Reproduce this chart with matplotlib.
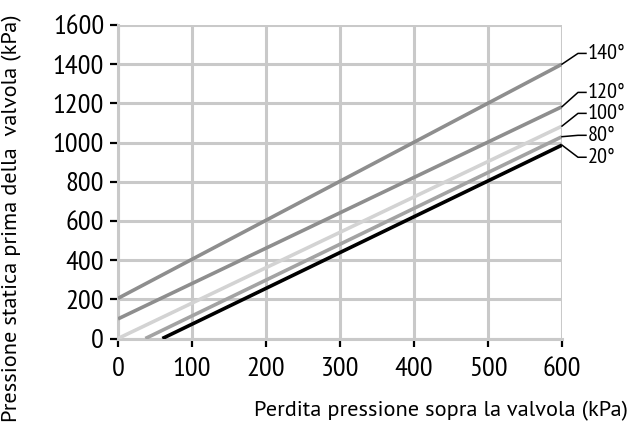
import matplotlib
matplotlib.use("Agg")
import matplotlib.pyplot as plt

plt.rcParams['font.family'] = ['PT Sans Narrow', 'DejaVu Sans']

# data
labels = ["140°", "120°", "100°", "80°", "20°"]
x_start = [0, 0, 0, 37, 60]
y_start = [205, 100, 0, 0, 0]
x_end = [600, 600, 600, 600, 600]
y_end = [1400, 1183, 1084, 1030, 987]
colors = ["#8e8e8e", "#8e8e8e", "#d3d3d3", "#a3a3a3", "#000000"]
label_y = [1455, 1256, 1149, 1037, 925]

x_ticks = [0, 100, 200, 300, 400, 500, 600]
y_ticks = [0, 200, 400, 600, 800, 1000, 1200, 1400, 1600]

fig = plt.figure(figsize=(6.31, 4.25), dpi=100)
ax = fig.add_axes([118/631, 1-338.5/425, (562-118)/631, (338.5-25)/425])
grid_c = "#c9c9c9"
ax.set_xlim(0, 600)
ax.set_ylim(0, 1600)
ax.set_xticks(x_ticks)
ax.set_yticks(y_ticks)
ax.grid(True, color=grid_c, linewidth=2.2, zorder=0)
for s in ["top", "right"]:
    ax.spines[s].set_visible(False)
for s in ["left", "bottom"]:
    ax.spines[s].set_color(grid_c)
    ax.spines[s].set_linewidth(2.2)
ax.tick_params(axis='both', direction='out', length=6, width=1.6, color='black',
               labelsize=20.5)
ax.tick_params(axis='y', pad=4)
ax.tick_params(axis='x', pad=7)

for xs, ys, xe, ye, c in zip(x_start, y_start, x_end, y_end, colors):
    ax.plot([xs, xe], [ys, ye], color=c, linewidth=2.6, solid_capstyle='butt', zorder=3)

for ye, ly, lab in zip(y_end, label_y, labels):
    ax.plot([600, 621.6, 632.4], [ye, ly, ly], color='black', linewidth=1.1, clip_on=False, zorder=4)
    ax.text(635, ly, lab, fontsize=16, va='center', ha='left', clip_on=False)

fig.text(628/631, 1-411/425, "Perdita pressione sopra la valvola (kPa)", ha='right', va='center',
         fontsize=16, family=['PT Sans', 'DejaVu Sans'])
fig.text(12/631, 1-218/425, "Pressione statica prima della  valvola (kPa)", rotation=90, ha='center', va='center',
         fontsize=16, family=['PT Sans', 'DejaVu Sans'])

fig.savefig("out.png", dpi=100)
